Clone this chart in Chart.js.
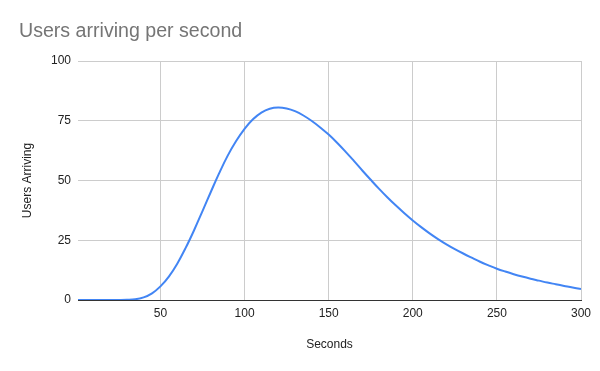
<!DOCTYPE html>
<html>
<head>
<meta charset="utf-8">
<script src="https://cdn.jsdelivr.net/npm/chart.js@4"></script>
<style>
  html, body { margin: 0; padding: 0; background: #fff; }
  #wrap { width: 600px; height: 371px; }
</style>
</head>
<body>
<div id="wrap"><canvas id="myChart" width="600" height="371"></canvas></div>
<script>
// Datos
const seconds = [1, 5, 10, 15, 20, 25, 30, 35, 40, 45, 50, 55, 60, 65, 70, 75, 80, 85, 90, 95,
  100, 105, 110, 115, 120, 125, 130, 135, 140, 145, 150, 155, 160, 165, 170, 175, 180, 185, 190, 195,
  200, 205, 210, 215, 220, 225, 230, 235, 240, 245, 250, 255, 260, 265, 270, 275, 280, 285, 290, 295, 300];
const usersArriving = [0, 0, 0, 0, 0, 0.02, 0.08, 0.3, 1.1, 2.8, 5.7, 9.8, 15.2, 21.8, 29.2, 37.2, 45.3, 53.2, 60.4, 66.5,
  71.6, 75.6, 78.4, 80.0, 80.5, 80.1, 79.0, 77.2, 74.9, 72.2, 69.2, 65.8, 62.1, 58.2, 54.2, 50.3, 46.5, 42.9, 39.5, 36.3,
  33.3, 30.5, 27.9, 25.5, 23.3, 21.3, 19.45, 17.7, 16.0, 14.5, 13.1, 11.9, 10.8, 9.8, 8.9, 8.1, 7.3, 6.6, 5.9, 5.2, 4.6];
const xTicks = [50, 100, 150, 200, 250, 300];
const yTicks = [0, 25, 50, 75, 100];

const FONT = '"Liberation Sans", Arial, sans-serif';

const chartTitle = {
    id: 'chartTitle',
    afterDraw(chart) {
        const c = chart.ctx;
        c.save();
        c.font = '19.6px ' + FONT;
        c.fillStyle = '#757575';
        c.textBaseline = 'middle';
        c.textAlign = 'left';
        c.fillText('Users arriving per second', 19, 32);
        c.restore();
    }
};

const ctx = document.getElementById('myChart').getContext('2d');
const myChart = new Chart(ctx, {
    type: 'line',
    data: {
        datasets: [{
            label: 'Users Arriving',
            data: seconds.map((s, i) => ({ x: s, y: usersArriving[i] })),
            borderColor: '#4285F4',
            borderWidth: 2,
            pointRadius: 0,
            fill: false,
            tension: 0.4
        }]
    },
    options: {
        responsive: false,
        animation: false,
        layout: { padding: { top: 61, left: 0, right: 19, bottom: 0 } },
        plugins: {
            legend: { display: false },
            title: { display: false },
            tooltip: { enabled: false }
        },
        scales: {
            x: {
                type: 'linear',
                min: 1,
                max: 300,
                afterBuildTicks: (scale) => { scale.ticks = xTicks.map(v => ({ value: v })); },
                afterFit: (scale) => { scale.height = 71; },
                grid: { color: '#cccccc', drawTicks: false },
                border: { color: '#333333', width: 1 },
                ticks: { color: '#222222', padding: 6, font: { family: FONT, size: 12 }, maxRotation: 0 },
                title: { display: true, text: 'Seconds', color: '#222222', font: { family: FONT, size: 12 }, padding: { top: 0, bottom: 19 } }
            },
            y: {
                min: 0,
                max: 100,
                afterBuildTicks: (scale) => { scale.ticks = yTicks.map(v => ({ value: v })); },
                afterFit: (scale) => { scale.width = 78; },
                grid: { color: '#cccccc', drawTicks: false },
                border: { display: false },
                ticks: { color: '#222222', padding: 7, font: { family: FONT, size: 12 } },
                title: { display: true, text: 'Users Arriving', color: '#222222', font: { family: FONT, size: 12 }, padding: { top: 20, bottom: 0 } }
            }
        }
    },
    plugins: [chartTitle]
});
</script>
</body>
</html>
